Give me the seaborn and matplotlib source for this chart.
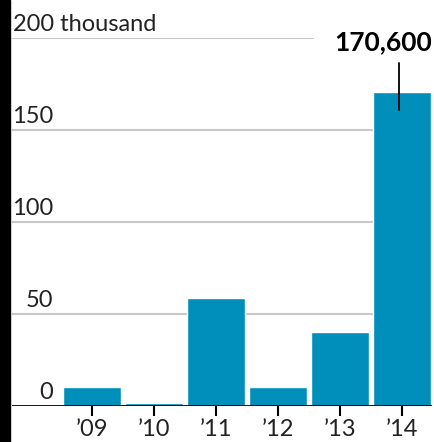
import matplotlib
matplotlib.use('Agg')
import matplotlib.pyplot as plt
import seaborn as sns
import pandas as pd
from matplotlib.patches import Rectangle

years = ['\u201909', '\u201910', '\u201911', '\u201912', '\u201913', '\u201914']
values = [10.3, 1.6, 58.7, 10.3, 40.2, 170.6]
grid_vals = [0, 50, 100, 150, 200]
grid_labels = ['0', '50', '100', '150', '200 thousand']
callout = '170,600'

sns.set_theme(style='white')
plt.rcParams['font.family'] = ['Lato', 'DejaVu Sans']

W, H = 435, 442
fig = plt.figure(figsize=(W / 100, H / 100), dpi=100)
ax = fig.add_axes([12 / W, (H - 406) / H, 420 / W, 368 / H])

df = pd.DataFrame({'year': years, 'value': values})
sns.barplot(data=df, x='year', y='value', color='#008fba', width=0.94,
            saturation=1, ax=ax, zorder=3)

ax.set_xlim(-1.29, 5.49)
ax.set_ylim(0, 200)

# gridlines + labels sitting on top of them
for v in grid_vals:
    if v == 0:
        continue
    xmax = 0.717 if v == 200 else 1.0
    ax.axhline(v, xmax=xmax, color='#c8c8c8', lw=1.5, zorder=1)
for v, lab in zip(grid_vals, grid_labels):
    if v == 200:
        ax.text(0.0024, v + 3.8, lab, transform=ax.get_yaxis_transform(),
                ha='left', va='baseline', fontsize=17, color='#222222')
    else:
        ax.text(0.0976, v + 3.8, lab, transform=ax.get_yaxis_transform(),
                ha='right', va='baseline', fontsize=17, color='#222222')

ax.axhline(0, color='black', lw=2, zorder=4)

# callout
ax.text(5.49, 193.5, callout, ha='right', va='baseline', fontsize=19,
        fontweight='bold', color='black', clip_on=False)
ax.plot([4.95, 4.95], [161, 186.5], color='black', lw=1.3, zorder=5, clip_on=False)

ax.set_xlabel('')
ax.set_ylabel('')
ax.set_yticks([])
ax.tick_params(axis='x', length=7, width=1.5, color='black', pad=2,
               labelsize=17, labelcolor='#222222', bottom=True, direction='out')
for s in ax.spines.values():
    s.set_visible(False)

fig.patches.append(Rectangle((0, 0), 10 / W, 1, transform=fig.transFigure,
                             color='black', zorder=10))

fig.savefig('out.png', dpi=100)
